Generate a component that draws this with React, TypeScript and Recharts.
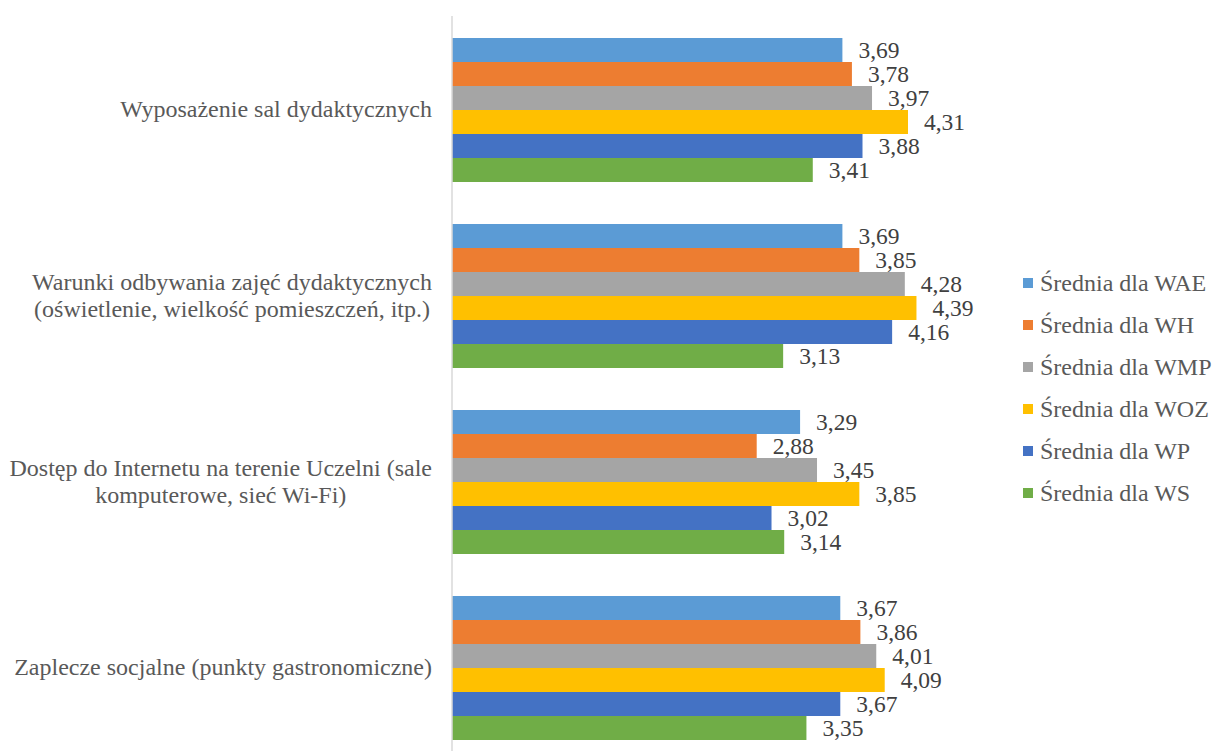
import { Bar, BarChart, LabelList, Legend, XAxis, YAxis } from 'recharts'

const categories = [
  'Wyposażenie sal dydaktycznych',
  'Warunki odbywania zajęć dydaktycznych\n(oświetlenie, wielkość pomieszczeń, itp.)',
  'Dostęp do Internetu na terenie Uczelni (sale\nkomputerowe, sieć Wi-Fi)',
  'Zaplecze socjalne (punkty gastronomiczne)',
]

const wae = [3.69, 3.69, 3.29, 3.67]
const wh = [3.78, 3.85, 2.88, 3.86]
const wmp = [3.97, 4.28, 3.45, 4.01]
const woz = [4.31, 4.39, 3.85, 4.09]
const wp = [3.88, 4.16, 3.02, 3.67]
const ws = [3.41, 3.13, 3.14, 3.35]

const seriesNames = [
  'Średnia dla WAE',
  'Średnia dla WH',
  'Średnia dla WMP',
  'Średnia dla WOZ',
  'Średnia dla WP',
  'Średnia dla WS',
]
const seriesColors = ['#5B9BD5', '#ED7D31', '#A5A5A5', '#FFC000', '#4472C4', '#70AD47']
const seriesKeys = ['wae', 'wh', 'wmp', 'woz', 'wp', 'ws']
const seriesValues = [wae, wh, wmp, woz, wp, ws]

const data = categories.map((name, i) => {
  const row: Record<string, string | number> = { name }
  seriesKeys.forEach((k, s) => {
    row[k] = seriesValues[s][i]
  })
  return row
})

const FONT = "'Liberation Serif', 'Times New Roman', serif"

let ctx: CanvasRenderingContext2D | null = null
const measure = (txt: string) => {
  if (!ctx) ctx = document.createElement('canvas').getContext('2d')
  if (!ctx) return txt.length * 11
  ctx.font = `24px ${FONT}`
  return ctx.measureText(txt).width
}

// category labels: block right-aligned to the axis, lines centred inside the block
const CategoryTick = (props: any) => {
  const { x, y, payload } = props
  const lines: string[] = String(payload.value).split('\n')
  const blockW = Math.max(...lines.map(measure))
  const cx = x - blockW / 2
  const lh = 27
  const y0 = y - ((lines.length - 1) * lh) / 2
  return (
    <g>
      {lines.map((l, i) => (
        <text
          key={i}
          x={cx}
          y={y0 + i * lh}
          dy="0.35em"
          textAnchor="middle"
          fontSize={24}
          fontFamily={FONT}
          fill="#595959"
        >
          {l}
        </text>
      ))}
    </g>
  )
}

const LegendBox = () => (
  <div style={{ fontFamily: FONT, fontSize: 24, color: '#595959', whiteSpace: 'nowrap' }}>
    {seriesNames.map((n, i) => (
      <div key={n} style={{ height: 42, display: 'flex', alignItems: 'center' }}>
        <span
          style={{
            width: 10,
            height: 10,
            background: seriesColors[i],
            display: 'inline-block',
            marginRight: 7,
            flexShrink: 0,
          }}
        />
        <span>{n}</span>
      </div>
    ))}
  </div>
)

const fmt = (v: any) => Number(v).toFixed(2).replace('.', ',')

const App = () => {
  return (
    <div
      style={{
        position: 'absolute',
        left: 0,
        top: 0,
        width: 1213,
        height: 751,
        overflow: 'hidden',
        background: '#fff',
      }}
    >
      <BarChart
        width={1213}
        height={776}
        data={data}
        layout="vertical"
        margin={{ top: 16, right: 42, bottom: 16, left: 0 }}
        barCategoryGap={22}
        barGap={0}
      >
        <XAxis type="number" domain={[0, 5]} hide />
        <YAxis
          type="category"
          dataKey="name"
          width={452}
          tickLine={false}
          tickSize={0}
          tickMargin={20}
          axisLine={{ stroke: '#d9d9d9', strokeWidth: 1.5 }}
          tick={<CategoryTick />}
          interval={0}
        />
        <Legend
          content={<LegendBox />}
          layout="vertical"
          align="right"
          verticalAlign="middle"
          wrapperStyle={{ left: 1023, top: 262, width: 190 }}
        />
        {seriesKeys.map((k, i) => (
          <Bar
            key={k}
            dataKey={k}
            name={seriesNames[i]}
            fill={seriesColors[i]}
            isAnimationActive={false}
          >
            <LabelList
              dataKey={k}
              position="right"
              offset={16}
              formatter={fmt}
              style={{ fontSize: 23.5, fill: '#404040', fontFamily: FONT }}
            />
          </Bar>
        ))}
      </BarChart>
    </div>
  )
}

export default App
